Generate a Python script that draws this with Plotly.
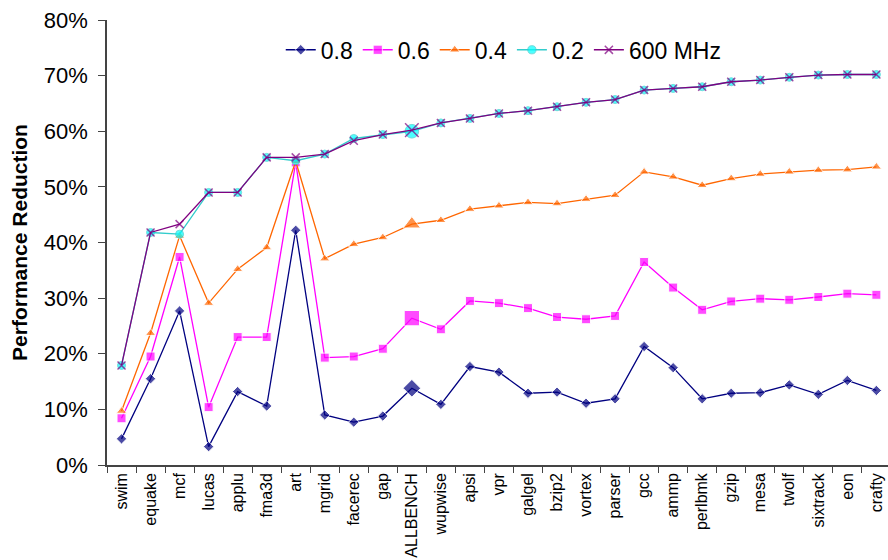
import plotly.graph_objects as go

benchmarks = ["swim", "equake", "mcf", "lucas", "applu", "fma3d", "art", "mgrid",
              "facerec", "gap", "ALLBENCH", "wupwise", "apsi", "vpr", "galgel",
              "bzip2", "vortex", "parser", "gcc", "ammp", "perlbmk", "gzip",
              "mesa", "twolf", "sixtrack", "eon", "crafty"]

v08 = [4.7, 15.5, 27.7, 3.3, 13.2, 10.6, 42.2, 9.0, 7.7, 8.8, 13.8, 10.9, 17.7,
       16.7, 12.9, 13.1, 11.1, 11.9, 21.3, 17.5, 11.9, 12.9, 13.0, 14.4, 12.7,
       15.2, 13.4]
v06 = [8.4, 19.5, 37.4, 10.4, 23.0, 23.0, 54.4, 19.3, 19.5, 20.9, 26.4, 24.4, 29.5,
       29.1, 28.2, 26.6, 26.2, 26.8, 36.5, 31.9, 27.9, 29.4, 29.9, 29.7, 30.2,
       30.8, 30.6]
v04 = [9.7, 23.7, 41.2, 29.1, 35.2, 39.1, 54.6, 37.1, 39.7, 40.9, 43.3, 44.0, 46.0,
       46.6, 47.2, 47.0, 47.8, 48.5, 52.7, 51.8, 50.3, 51.5, 52.3, 52.7, 53.0,
       53.1, 53.6]
v02 = [17.9, 41.8, 41.5, 49.0, 49.0, 55.3, 54.7, 55.9, 58.7, 59.4, 60.0, 61.5, 62.3,
       63.2, 63.7, 64.4, 65.2, 65.7, 67.4, 67.7, 68.0, 68.9, 69.2, 69.7, 70.1,
       70.2, 70.2]
v600 = [17.9, 41.8, 43.3, 49.0, 49.0, 55.3, 55.3, 55.9, 58.3, 59.4, 60.2, 61.5, 62.3,
        63.2, 63.7, 64.4, 65.2, 65.7, 67.4, 67.7, 68.0, 68.9, 69.2, 69.7, 70.1,
        70.2, 70.2]

series = [
    ("0.8", v08, "#000080", "#000080", "diamond", 8),
    ("0.6", v06, "#FF00FF", "#FF00FF", "square", 9),
    ("0.4", v04, "#FF6600", "#FF6600", "triangle-up", 9),
    ("0.2", v02, "#33CCCC", "#00FFFF", "circle", 8),
    ("600 MHz", v600, "#800080", "#800080", "x-thin-open", 8),
]

highlight = benchmarks.index("ALLBENCH")

fig = go.Figure()
for name, vals, lcol, mcol, sym, size in series:
    sizes = [size * 1.7 if i == highlight else size for i in range(len(vals))]
    marker = dict(symbol=sym, size=sizes, color=mcol)
    if sym == "x-thin-open":
        marker["line"] = dict(color=mcol, width=1.5)
    fig.add_trace(go.Scatter(
        x=benchmarks, y=vals, name=name, mode="lines+markers",
        line=dict(color=lcol, width=1.3), marker=marker,
    ))

fig.update_layout(
    width=888, height=560,
    margin=dict(l=107, r=0, t=20, b=95),
    paper_bgcolor="white", plot_bgcolor="white",
    font=dict(family="Liberation Sans, Arial, sans-serif", color="black"),
    legend=dict(orientation="h", x=0.508, y=0.933, xanchor="center", yanchor="middle",
                font=dict(size=23), bgcolor="rgba(0,0,0,0)", itemwidth=30,
                tracegroupgap=0),
    showlegend=True,
)
fig.update_xaxes(
    type="category", range=[-0.5, 26.4],
    showline=True, linecolor="#444", linewidth=1.5,
    ticks="outside", tickson="boundaries", ticklen=6, tickcolor="#444",
    tickangle=-90, tickfont=dict(size=16), showgrid=False,
)
fig.update_yaxes(
    range=[0, 80], dtick=10, ticksuffix="%",
    showline=True, linecolor="#444", linewidth=1.5,
    ticks="outside", ticklen=7, tickcolor="#444", ticklabelstandoff=6,
    tickfont=dict(size=22), showgrid=False, zeroline=False,
    title=dict(text="<b>Performance Reduction</b>", font=dict(size=21), standoff=10),
)

fig.write_html("out.html")
